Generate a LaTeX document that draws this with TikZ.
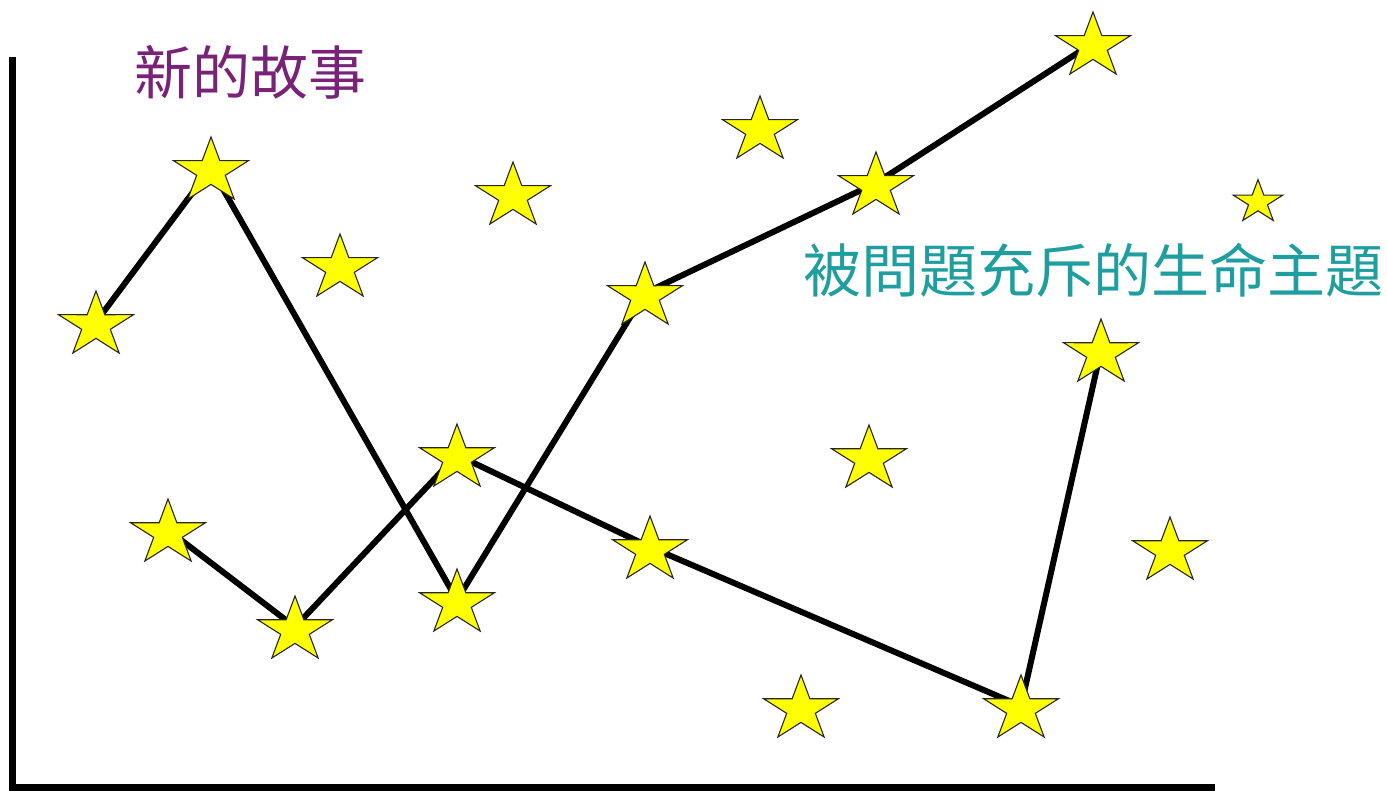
\documentclass[tikz,border=0pt]{standalone}
\usepackage{fontspec}
\newfontfamily\cjk{Noto Sans CJK TC}
\definecolor{starfill}{RGB}{255,255,0}
\definecolor{purpletxt}{RGB}{120,35,120}
\definecolor{tealtxt}{RGB}{30,158,158}
\tikzset{
  conn/.style={line width=6pt, black},
  axisline/.style={line width=7pt, black, line join=miter},
  starline/.style={fill=starfill, draw=black!85, line width=1.1pt, line join=miter},
  lbl/.style={inner sep=0pt, font=\cjk\fontsize{58}{62}\selectfont},
  pics/gstar/.style={code={
    \begin{scope}[shift={(0pt,-3.3pt)}]
      \path[starline] (90:39.4pt and 34.3pt) -- (126:15.05pt and 13.1pt)
        -- (162:39.4pt and 34.3pt) -- (198:15.05pt and 13.1pt)
        -- (234:39.4pt and 34.3pt) -- (270:15.05pt and 13.1pt)
        -- (306:39.4pt and 34.3pt) -- (342:15.05pt and 13.1pt)
        -- (18:39.4pt and 34.3pt) -- (54:15.05pt and 13.1pt) -- cycle;
    \end{scope}
  }}
}
\begin{document}
\begin{tikzpicture}[x=1pt,y=-1pt]
\useasboundingbox (0,0) rectangle (1387,791);
% star positions
\coordinate (s1) at (96,322);
\coordinate (s2) at (211,168);
\coordinate (s3) at (340,265);
\coordinate (s4) at (513,193);
\coordinate (s5) at (760,127);
\coordinate (s6) at (876,183);
\coordinate (s7) at (1093,43);
\coordinate (s8) at (1258,200);
\coordinate (s9) at (645,293);
\coordinate (s10) at (1101,350);
\coordinate (s11) at (457,455);
\coordinate (s12) at (869,456);
\coordinate (s13) at (168,530);
\coordinate (s14) at (1170,548);
\coordinate (s15) at (295,627);
\coordinate (s16) at (457,600);
\coordinate (s17) at (650,547);
\coordinate (s18) at (801,706);
\coordinate (s19) at (1021,706);
% axes
\coordinate (ytop) at (12.5,57);
\coordinate (org) at (12.5,787.5);
\coordinate (xend) at (1215,787.5);
\draw[axisline] (ytop) -- (org) -- (xend);
% connectors
\draw[conn] (s1) -- (s2) -- (s16) -- (s9) -- (s6) -- (s7);
\draw[conn] (s13) -- (s15) -- (s11) -- (s17) -- (s19) -- (s10);
% stars
\foreach \s in {s1,s2,s3,s4,s5,s6,s7,s9,s10,s11,s12,s13,s14,s15,s16,s17,s18,s19}
  \pic at (\s) {gstar};
\pic[scale=0.66] at (s8) {gstar};
% labels
\node[lbl, text=purpletxt] (t1) at (250,72) {新的故事};
\node[lbl, text=tealtxt] (t2) at (1093,270) {被問題充斥的生命主題};
\end{tikzpicture}
\end{document}
